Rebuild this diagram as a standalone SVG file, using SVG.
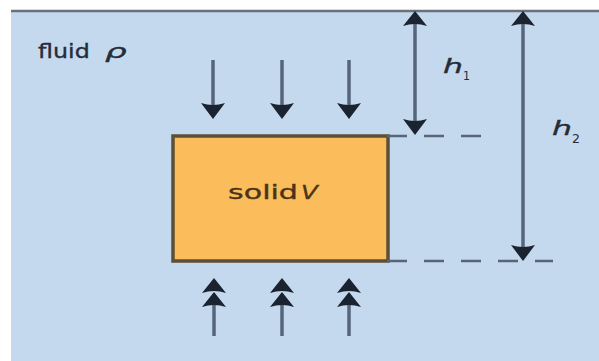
<svg xmlns="http://www.w3.org/2000/svg" width="599" height="361" viewBox="0 0 599 361">
<defs>
<style>
.bg{fill:#c5d9ee}
.topline{stroke:#6a717b;stroke-width:2.5;fill:none}
.shaft{stroke:#56657a;stroke-width:3.5;fill:none}
.dim{stroke:#56657a;stroke-width:3.5;fill:none}
.dash{stroke:#56657a;stroke-width:2.5;fill:none;stroke-dasharray:20 17}
.head{fill:#1b2230}
.box{fill:#fbbd5c;stroke:#5b4f38;stroke-width:3.5}
.t{font-family:"DejaVu Sans","Liberation Sans",sans-serif;font-size:20px;fill:#262c36;stroke:#262c36;stroke-width:0.35}
.ts{font-family:"DejaVu Sans","Liberation Sans",sans-serif;font-size:20px;fill:#4a3418;stroke:#4a3418;stroke-width:0.35}
.sub{font-family:"DejaVu Sans","Liberation Sans",sans-serif;font-size:13px;fill:#262c36}
.it{font-style:italic}
</style>
<path id="hd" d="M0,0 L-12,-16 Q0,-12 12,-16 Z"/>
<path id="hu" d="M0,0 L-12,15 Q0,11 12,15 Z"/>
</defs>
<rect x="0" y="0" width="599" height="361" fill="#ffffff"/>
<rect class="bg" x="11" y="10" width="588" height="351"/>
<line class="topline" x1="11" y1="11" x2="599" y2="11"/>

<g id="fluid-label">
<text class="t" transform="translate(38,58) scale(1.15,1)" x="0" y="0" textLength="45" lengthAdjust="spacingAndGlyphs">fluid</text>
<text class="t it" transform="translate(105,58) scale(1.4,1)" x="0" y="0" textLength="15.5" lengthAdjust="spacingAndGlyphs">ρ</text>
</g>

<g id="solid">
<rect class="box" x="173" y="136" width="215" height="125"/>
<text class="ts" transform="translate(228,199) scale(1.4,1)" x="0" y="0" textLength="50" lengthAdjust="spacingAndGlyphs">solid</text>
<text class="ts it" transform="translate(301,199) scale(1.2,1)" x="0" y="0" textLength="14" lengthAdjust="spacingAndGlyphs">V</text>
</g>

<g id="h1-label">
<text class="t it" transform="translate(443,73) scale(1.4,1)" x="0" y="0" textLength="14.3" lengthAdjust="spacingAndGlyphs">h</text>
<text class="sub" x="463" y="80" textLength="7" lengthAdjust="spacingAndGlyphs">1</text>
</g>
<g id="h2-label">
<text class="t it" transform="translate(552,135) scale(1.4,1)" x="0" y="0" textLength="14.3" lengthAdjust="spacingAndGlyphs">h</text>
<text class="sub" x="572" y="143" textLength="8" lengthAdjust="spacingAndGlyphs">2</text>
</g>

<g id="connectors">
<line class="dash" x1="387" y1="136" x2="481" y2="136"/>
<line class="dash" x1="387" y1="261" x2="553" y2="261"/>

<line class="shaft" x1="213" y1="60" x2="213" y2="108"/>
<use href="#hd" class="head" x="213" y="119"/>
<line class="shaft" x1="282" y1="60" x2="282" y2="108"/>
<use href="#hd" class="head" x="282" y="119"/>
<line class="shaft" x1="349" y1="60" x2="349" y2="108"/>
<use href="#hd" class="head" x="349" y="119"/>

<line class="shaft" x1="214" y1="336" x2="214" y2="298"/>
<use href="#hu" class="head" x="214" y="278"/>
<use href="#hu" class="head" x="214" y="292"/>
<line class="shaft" x1="282" y1="336" x2="282" y2="298"/>
<use href="#hu" class="head" x="282" y="278"/>
<use href="#hu" class="head" x="282" y="292"/>
<line class="shaft" x1="349" y1="336" x2="349" y2="298"/>
<use href="#hu" class="head" x="349" y="278"/>
<use href="#hu" class="head" x="349" y="292"/>

<line class="dim" x1="415" y1="22" x2="415" y2="124"/>
<use href="#hu" class="head" x="415" y="11"/>
<use href="#hd" class="head" x="415" y="135"/>
<line class="dim" x1="523" y1="22" x2="523" y2="250"/>
<use href="#hu" class="head" x="523" y="11"/>
<use href="#hd" class="head" x="523" y="261"/>
</g>
</svg>
